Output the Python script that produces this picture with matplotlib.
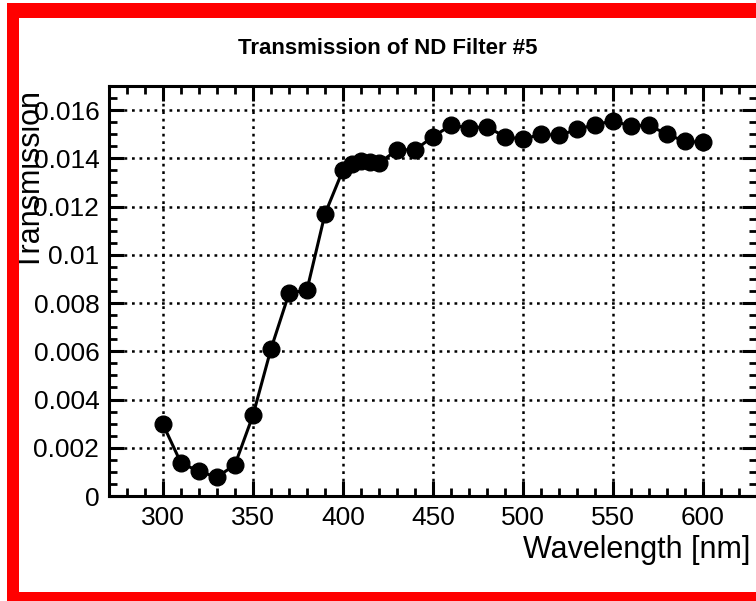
import numpy as np
import matplotlib
matplotlib.use("Agg")
import matplotlib.pyplot as plt
from matplotlib.patches import Rectangle
from matplotlib.ticker import MultipleLocator, FuncFormatter

plt.rcParams['font.family'] = ['Liberation Sans', 'DejaVu Sans']

# transmission of ND filter #5
wavelength = [300, 310, 320, 330, 340, 350, 360, 370, 380, 390,
              400, 405, 410, 415, 420, 430, 440, 450, 460, 470,
              480, 490, 500, 510, 520, 530, 540, 550, 560, 570,
              580, 590, 600]
transmission = [0.00297, 0.00137, 0.00102, 0.00078, 0.00130, 0.00335, 0.00610, 0.00840, 0.00855, 0.01170,
                0.01352, 0.01375, 0.01390, 0.01385, 0.01380, 0.01435, 0.01435, 0.01490, 0.01537, 0.01527,
                0.01530, 0.01490, 0.01479, 0.01500, 0.01495, 0.01520, 0.01540, 0.01555, 0.01534, 0.01537,
                0.01500, 0.01470, 0.01467]

W, H = 756, 601
fig = plt.figure(figsize=(W / 100, H / 100), dpi=100)

# axes box in pixels: left 109, right 757, top 86, bottom 496
ax = fig.add_axes([109 / W, (H - 496) / H, (757 - 109) / W, (496 - 86) / H])

ax.plot(wavelength, transmission, color='black', lw=2.2, marker='o',
        markersize=12, markerfacecolor='black', markeredgecolor='black', zorder=3)

ax.set_xlim(270, 630)
ax.set_ylim(0, 0.017)
ax.xaxis.set_major_locator(MultipleLocator(50))
ax.xaxis.set_minor_locator(MultipleLocator(10))
ax.yaxis.set_major_locator(MultipleLocator(0.002))
ax.yaxis.set_minor_locator(MultipleLocator(0.0005))
ax.yaxis.set_major_formatter(FuncFormatter(lambda v, p: '0' if abs(v) < 1e-12 else ('%.3f' % v).rstrip('0')))

ax.tick_params(which='both', direction='in', top=True, right=True, colors='black')
ax.tick_params(which='major', length=11, width=2.2, labelsize=19, pad=7)
ax.tick_params(which='minor', length=5.5, width=2.0)
for s in ax.spines.values():
    s.set_linewidth(2.2)

ax.grid(True, which='major', color='black', linestyle=(0, (1.1, 1.9)), linewidth=1.8)
ax.set_axisbelow(True)

fig.text(387.5 / W, (H - 48) / H, 'Transmission of ND Filter #5', ha='center', va='center',
         fontsize=16, fontweight='bold')
fig.text(750 / W, (H - 550) / H, 'Wavelength [nm]', ha='right', va='center', fontsize=22)
# the y label sits over the tick labels, as in the original
fig.text(31.5 / W, (H - 180) / H, 'Transmission', ha='center', va='center', rotation=90, fontsize=22)

# red frame round the picture (right side is cropped off)
red = '#ff0000'
fig.add_artist(Rectangle((7 / W, 0), 12 / W, (H - 3) / H, transform=fig.transFigure,
                         facecolor=red, edgecolor='none', zorder=10))
fig.add_artist(Rectangle((7 / W, (H - 18) / H), 1.0, 15 / H, transform=fig.transFigure,
                         facecolor=red, edgecolor='none', zorder=10))
fig.add_artist(Rectangle((7 / W, 0), 1.0, 9 / H, transform=fig.transFigure,
                         facecolor=red, edgecolor='none', zorder=10))

fig.savefig('out.png', dpi=100)
